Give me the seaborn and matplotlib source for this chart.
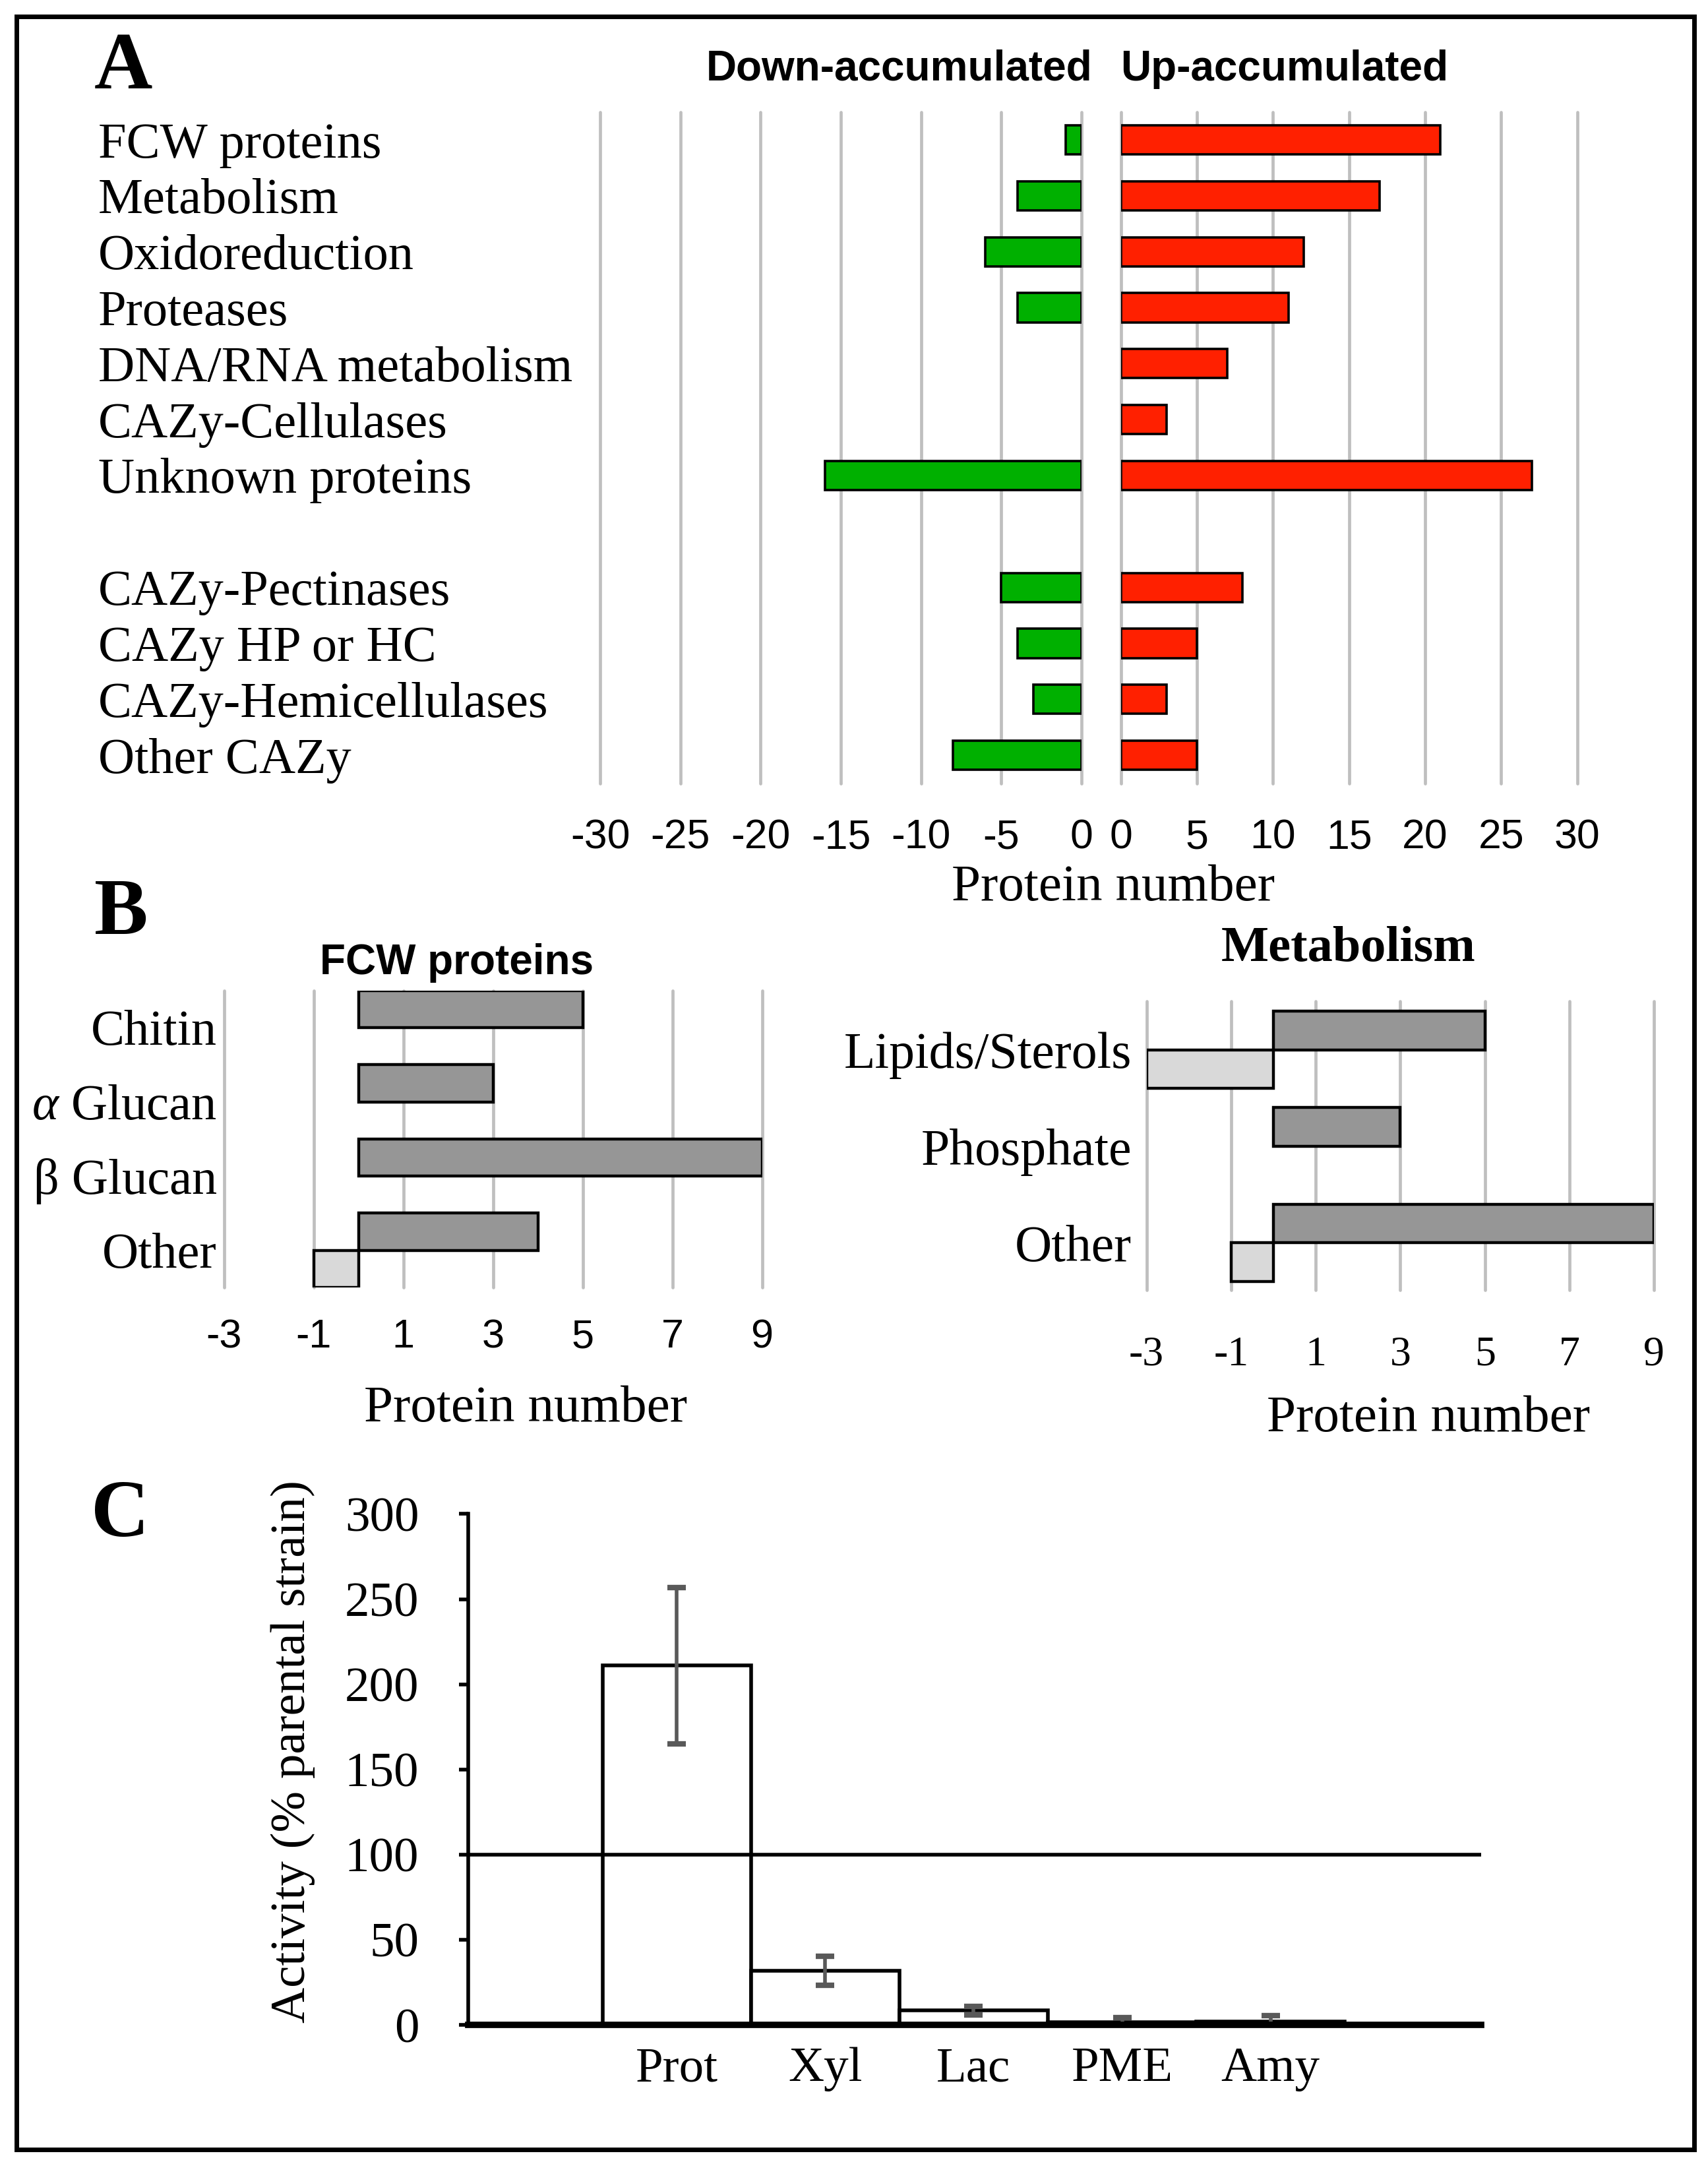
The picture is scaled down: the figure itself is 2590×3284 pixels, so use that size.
import numpy as np
import pandas as pd
import matplotlib.pyplot as plt
import matplotlib.patches as mpatches
import seaborn as sns

# ---- panel A: protein categories ----
categories_a = ['FCW proteins', 'Metabolism', 'Oxidoreduction', 'Proteases',
                'DNA/RNA metabolism', 'CAZy-Cellulases', 'Unknown proteins', '',
                'CAZy-Pectinases', 'CAZy HP or HC', 'CAZy-Hemicellulases', 'Other CAZy']
down_a = [-1, -4, -6, -4, 0, 0, -16, 0, -5, -4, -3, -8]
up_a = [21, 17, 12, 11, 7, 3, 27, 0, 8, 5, 3, 5]
ticks_down = [-30, -25, -20, -15, -10, -5, 0]
ticks_up = [0, 5, 10, 15, 20, 25, 30]

# ---- panel B: FCW proteins / Metabolism ----
fcw_cats = ['Chitin', r'$\alpha$ Glucan', 'β Glucan', 'Other']
fcw_up = [5, 3, 9, 4]
fcw_down = [0, 0, 0, -1]
met_cats = ['Lipids/Sterols', 'Phosphate', 'Other']
met_up = [5, 3, 9]
met_down = [-3, 0, -1]
ticks_b = [-3, -1, 1, 3, 5, 7, 9]

# ---- panel C: enzyme activities ----
enzymes = ['Prot', 'Xyl', 'Lac', 'PME', 'Amy']
activity = [211, 32, 8.5, 1.5, 2]
activity_err = [46, 8.5, 2.5, 3, 3.5]
ticks_c = [0, 50, 100, 150, 200, 250, 300]

sns.set_style("white")
plt.rcParams['font.family'] = ['Liberation Serif', 'DejaVu Serif']
plt.rcParams['mathtext.fontset'] = 'custom'
plt.rcParams['mathtext.it'] = 'Liberation Serif:italic'
plt.rcParams['mathtext.rm'] = 'Liberation Serif'
for key in ['text.color', 'axes.labelcolor', 'xtick.color', 'ytick.color']:
    plt.rcParams[key] = 'black'

SERIF = ['Liberation Serif', 'DejaVu Serif']
SANS = ['Liberation Sans', 'DejaVu Sans']
GREEN = '#00b000'
RED = '#ff2000'
GRID = '#bfbfbf'

# layout measured on a 1235 x 1568 grid
W, H = 1235.0, 1568.0


def rect(x0, y0, x1, y1):
    return [x0 / W, 1 - y1 / H, (x1 - x0) / W, (y1 - y0) / H]


def ftext(x, y, s, **kw):
    fig.text(x / W, 1 - y / H, s, **kw)


def clean(ax):
    for sp in ax.spines.values():
        sp.set_visible(False)
    ax.set_xlabel('')
    ax.set_ylabel('')


def vgrid(ax):
    ax.set_axisbelow(True)
    ax.xaxis.grid(True, color=GRID, lw=1.7)
    ax.yaxis.grid(False)
    for ln in ax.get_xgridlines():
        ln.set_clip_on(False)


fig = plt.figure(figsize=(12.95, 16.42), dpi=200)

# ================= A =================
ax_dn = fig.add_axes(rect(434, 81, 782, 567))
ax_up = fig.add_axes(rect(810.5, 81, 1140.5, 567))

df_dn = pd.DataFrame({'cat': categories_a, 'val': down_a})
df_dn = df_dn[df_dn['val'] != 0]
df_up = pd.DataFrame({'cat': categories_a, 'val': up_a})
df_up = df_up[df_up['val'] != 0]

sns.barplot(data=df_dn, x='val', y='cat', order=categories_a, orient='h',
            color=GREEN, saturation=1, edgecolor='black', linewidth=1.3,
            width=0.52, errorbar=None, ax=ax_dn)
sns.barplot(data=df_up, x='val', y='cat', order=categories_a, orient='h',
            color=RED, saturation=1, edgecolor='black', linewidth=1.3,
            width=0.52, errorbar=None, ax=ax_up)

for ax, lim, ticks in [(ax_dn, (-30, 0), ticks_down), (ax_up, (0, 30), ticks_up)]:
    clean(ax)
    ax.set_xlim(*lim)
    ax.set_ylim(11.5, -0.5)
    ax.set_xticks(ticks)
    ax.set_xticklabels([str(t) for t in ticks], family=SANS, fontsize=22.5)
    ax.tick_params(axis='x', length=0, pad=19)
    vgrid(ax)

ax_dn.set_yticks(range(len(categories_a)))
ax_dn.set_yticklabels(categories_a, ha='left', fontsize=27.5, family=SERIF)
ax_dn.tick_params(axis='y', length=0, pad=(434 - 71) * 0.755)
ax_up.set_yticks([])

ftext(68, 50, 'A', fontsize=44, fontweight='bold', family=SERIF, va='center', ha='left')
ftext(790, 50, 'Down-accumulated', fontsize=23, fontweight='bold', family=SANS,
      va='center', ha='right')
ftext(810, 50, 'Up-accumulated', fontsize=23, fontweight='bold', family=SANS,
      va='center', ha='left')
ftext(805, 643, 'Protein number', fontsize=28.5, family=SERIF, va='center', ha='center')

# ================= B =================
ax_fcw = fig.add_axes(rect(162, 717, 551, 932))
ax_met = fig.add_axes(rect(829, 725, 1196, 934))

df_fcw = pd.DataFrame({'cat': fcw_cats * 2,
                       'kind': ['up'] * len(fcw_cats) + ['down'] * len(fcw_cats),
                       'val': fcw_up + fcw_down})
df_fcw = df_fcw[df_fcw['val'] != 0]
df_met = pd.DataFrame({'cat': met_cats * 2,
                       'kind': ['up'] * len(met_cats) + ['down'] * len(met_cats),
                       'val': met_up + met_down})
df_met = df_met[df_met['val'] != 0]

pal_b = {'up': '#969696', 'down': '#d9d9d9'}
sns.barplot(data=df_fcw, x='val', y='cat', hue='kind', hue_order=['up', 'down'],
            order=fcw_cats, orient='h', palette=pal_b, saturation=1,
            edgecolor='black', linewidth=1.6, width=1.0, errorbar=None,
            legend=False, ax=ax_fcw)
sns.barplot(data=df_met, x='val', y='cat', hue='kind', hue_order=['up', 'down'],
            order=met_cats, orient='h', palette=pal_b, saturation=1,
            edgecolor='black', linewidth=1.6, width=0.8, errorbar=None,
            legend=False, ax=ax_met)

clean(ax_fcw)
ax_fcw.set_xlim(-3, 9)
ax_fcw.set_ylim(3.5, -0.5)
ax_fcw.set_xticks(ticks_b)
ax_fcw.set_xticklabels([str(t) for t in ticks_b], family=SANS, fontsize=22)
ax_fcw.tick_params(axis='x', length=0, pad=17)
ax_fcw.set_yticks(range(len(fcw_cats)))
ax_fcw.set_yticklabels(fcw_cats, fontsize=27.5, family=SERIF)
ax_fcw.tick_params(axis='y', length=0, pad=4)
vgrid(ax_fcw)

clean(ax_met)
ax_met.set_xlim(-3, 9)
ax_met.set_ylim(2.49, -0.5)
ax_met.set_xticks(ticks_b)
ax_met.set_xticklabels([str(t) for t in ticks_b], family=SERIF, fontsize=23)
ax_met.tick_params(axis='x', length=0, pad=25)
ax_met.set_yticks(range(len(met_cats)))
ax_met.set_yticklabels(met_cats, fontsize=28, family=SERIF)
ax_met.tick_params(axis='y', length=0, pad=8)
vgrid(ax_met)

ftext(68, 662, 'B', fontsize=44, fontweight='bold', family=SERIF, va='center', ha='left')
ftext(330, 697, 'FCW proteins', fontsize=23, fontweight='bold', family=SANS,
      va='center', ha='center')
ftext(975, 687, 'Metabolism', fontsize=27.5, fontweight='bold', family=SERIF,
      va='center', ha='center')
ftext(380, 1020, 'Protein number', fontsize=28.5, family=SERIF, va='center', ha='center')
ftext(1033, 1027, 'Protein number', fontsize=28.5, family=SERIF, va='center', ha='center')

# ================= C =================
ax_c = fig.add_axes(rect(338.7, 1096, 1071, 1466))
sns.barplot(x=enzymes, y=activity, color='white', saturation=1, edgecolor='black',
            linewidth=2, width=1.0, errorbar=None, ax=ax_c)
ax_c.errorbar(np.arange(len(enzymes)), activity, yerr=activity_err, fmt='none',
              ecolor='#595959', elinewidth=2, capsize=5, capthick=3, zorder=4)
ax_c.axhline(100, color='black', lw=2, zorder=5)
ax_c.set_xlim(-1.405, 5.42)
ax_c.set_ylim(0, 300)
ax_c.set_yticks(ticks_c)
ax_c.set_yticklabels([str(t) for t in ticks_c], fontsize=27, family=SERIF)
ax_c.set_xticks(range(len(enzymes)))
ax_c.set_xticklabels(enzymes, fontsize=27, family=SERIF)
ax_c.tick_params(axis='x', length=0, pad=12)
ax_c.tick_params(axis='y', direction='out', length=5, width=2, pad=22, left=True)
ax_c.spines['top'].set_visible(False)
ax_c.spines['right'].set_visible(False)
ax_c.spines['left'].set_linewidth(2)
ax_c.spines['left'].set_color('black')
ax_c.spines['bottom'].set_linewidth(3.5)
ax_c.spines['bottom'].set_color('black')
ax_c.spines['bottom'].set_zorder(6)
ax_c.set_xlabel('')
ax_c.set_ylabel('')
ax_c.grid(False)

ftext(212, 1268, 'Activity (% parental strain)', fontsize=27, family=SERIF,
      rotation=90, va='center', ha='center')
ftext(66, 1098, 'C', fontsize=44, fontweight='bold', family=SERIF, va='center', ha='left')

# outer frame
fig.add_artist(mpatches.Rectangle((12 / W, 1 - 1556 / H), 1213 / W, 1544 / H,
                                  transform=fig.transFigure, fill=False,
                                  lw=2.5, ec='black'))

fig.savefig('out.png', dpi=200)
